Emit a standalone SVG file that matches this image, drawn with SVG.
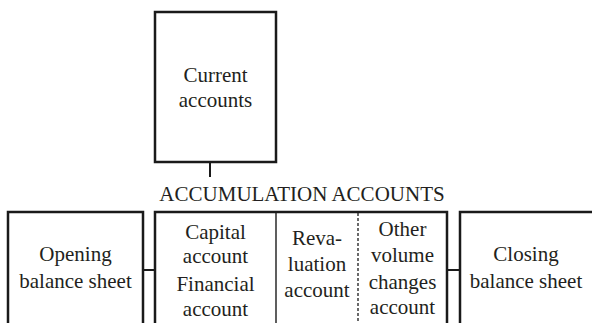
<svg xmlns="http://www.w3.org/2000/svg" width="592" height="323" viewBox="0 0 592 323">
<style>
.box{fill:none;stroke:#1a1a1a;stroke-width:2.5}
.div{fill:none;stroke:#1a1a1a;stroke-width:1.4}
.dash{fill:none;stroke:#1a1a1a;stroke-width:1.3;stroke-dasharray:3 2}
.con{fill:none;stroke:#1a1a1a;stroke-width:2}
text{font-family:"Liberation Serif","Times New Roman",serif;font-size:21px;fill:#231f20;text-anchor:middle}
</style>
<rect width="592" height="323" fill="#ffffff"/>
<g id="current-accounts">
<rect class="box" x="155" y="12" width="121" height="150"/>
<text x="215.5" y="82">Current</text>
<text x="215.5" y="107">accounts</text>
</g>
<g id="accumulation-label">
<text x="302" y="201">ACCUMULATION ACCOUNTS</text>
</g>
<g id="opening-balance-sheet">
<path class="box" d="M8 325V212H143V325"/>
<text x="75.5" y="261">Opening</text>
<text x="75.5" y="288">balance sheet</text>
</g>
<g id="accumulation-accounts">
<path class="box" d="M155 325V212H447V325"/>
<line class="div" x1="276" y1="212" x2="276" y2="325"/>
<line class="dash" x1="358" y1="213" x2="358" y2="325"/>
</g>
<g id="capital-financial-account">
<text x="215.5" y="239">Capital</text>
<text x="215.5" y="263">account</text>
<text x="215.5" y="291">Financial</text>
<text x="215.5" y="316">account</text>
</g>
<g id="revaluation-account">
<text x="317" y="245">Reva-</text>
<text x="317" y="271">luation</text>
<text x="317" y="297">account</text>
</g>
<g id="other-volume-changes-account">
<text x="402.5" y="236">Other</text>
<text x="402.5" y="262">volume</text>
<text x="402.5" y="289">changes</text>
<text x="402.5" y="314">account</text>
</g>
<g id="closing-balance-sheet">
<path class="box" d="M460 325V212H595"/>
<text x="526" y="261">Closing</text>
<text x="526" y="288">balance sheet</text>
</g>
<g id="connectors">
<line class="con" x1="210" y1="163" x2="210" y2="177"/>
<line class="con" x1="144" y1="270" x2="154" y2="270"/>
<line class="con" x1="448" y1="270" x2="459" y2="270"/>
</g>
</svg>
